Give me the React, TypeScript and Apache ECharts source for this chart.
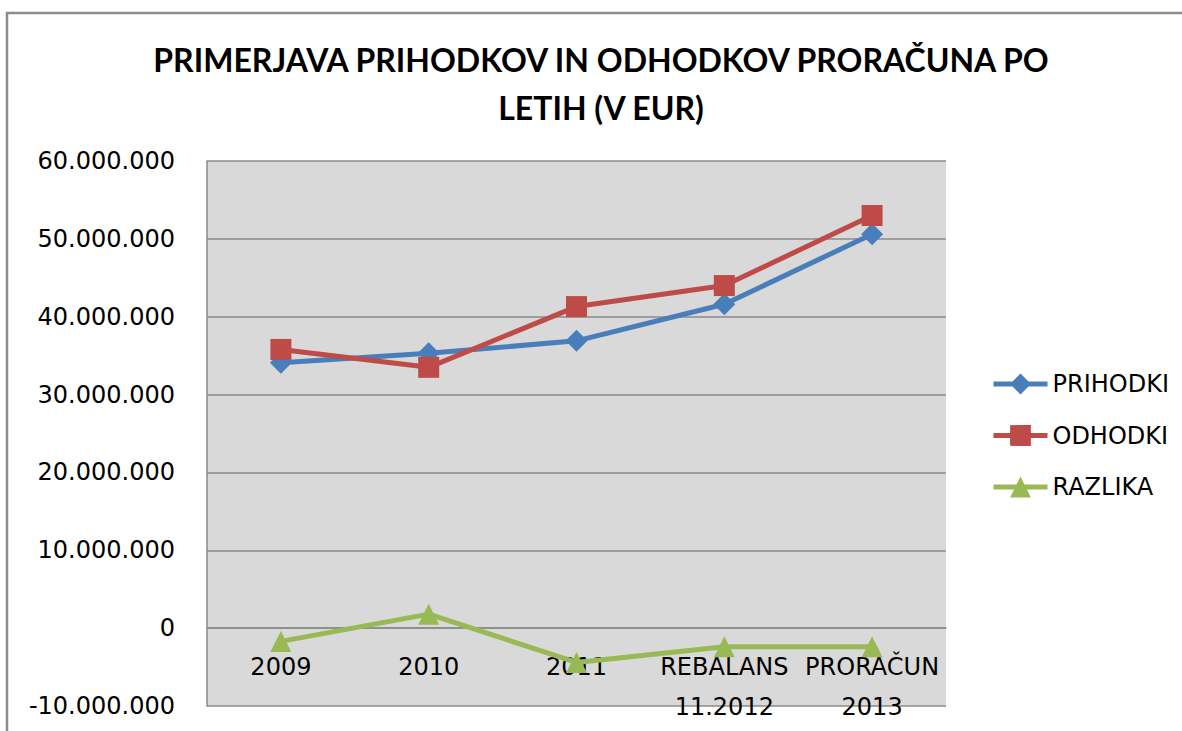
import React, { useEffect, useRef } from "react";
import * as echarts from "echarts";

const categories = ["2009", "2010", "2011", "REBALANS\n11.2012", "PRORAČUN\n2013"];
const prihodki = [34100000, 35300000, 36900000, 41600000, 50600000];
const odhodki = [35800000, 33500000, 41300000, 44000000, 53000000];
const razlika = [-1700000, 1800000, -4400000, -2400000, -2400000];
const seriesNames = ["PRIHODKI", "ODHODKI", "RAZLIKA"];
const titleText = "PRIMERJAVA PRIHODKOV IN ODHODKOV PRORAČUNA PO\nLETIH (V EUR)";

const fmt = (v: number) => {
  const s = Math.abs(v).toString().replace(/\B(?=(\d{3})+(?!\d))/g, ".");
  return (v < 0 ? "-" : "") + s;
};

export default function App() {
  const ref = useRef<HTMLDivElement>(null);
  useEffect(() => {
    if (!ref.current) return;
    const chart = echarts.init(ref.current, undefined, { renderer: "svg" });
    const font = "DejaVu Sans";
    chart.setOption({
      animation: false,
      backgroundColor: "#ffffff",
      title: {
        text: titleText,
        left: 601,
        top: 35,
        padding: 0,
        textAlign: "center",
        textStyle: {
          fontFamily: "Lato",
          fontWeight: "bold",
          fontSize: 32,
          lineHeight: 48,
          color: "#000000",
        },
      },
      graphic: [
        {
          type: "rect",
          shape: { x: 7, y: 13, width: 1220, height: 800 },
          style: { fill: "none", stroke: "#8c8c8c", lineWidth: 2.5 },
          silent: true,
          z: -1,
        },
      ],
      legend: {
        orient: "vertical",
        left: 986,
        top: 367,
        itemWidth: 54,
        itemHeight: 26,
        itemGap: 27.5,
        lineStyle: { width: 5 },
        textStyle: { fontFamily: font, fontSize: 24, lineHeight: 24, color: "#000" },
        data: seriesNames,
      },
      grid: {
        left: 207,
        right: 236,
        top: 161,
        bottom: 25,
        show: true,
        backgroundColor: "#d9d9d9",
        borderWidth: 0,
        containLabel: false,
        outerBoundsMode: "none",
      },
      xAxis: {
        type: "category",
        data: categories,
        boundaryGap: true,
        axisLine: { show: true, onZero: true, lineStyle: { color: "#8a8a8a", width: 1.5 } },
        axisTick: { show: false },
        axisLabel: {
          interval: 0,
          margin: -59,
          fontFamily: font,
          fontSize: 24,
          lineHeight: 40,
          color: "#000",
        },
        splitLine: { show: false },
      },
      yAxis: {
        type: "value",
        min: -10000000,
        max: 60000000,
        interval: 10000000,
        axisLine: { show: true, lineStyle: { color: "#8a8a8a", width: 1.5 } },
        axisTick: { show: false },
        axisLabel: {
          margin: 32,
          fontFamily: font,
          fontSize: 24,
          color: "#000",
          formatter: (v: number) => fmt(v),
        },
        splitLine: { show: true, lineStyle: { color: "#8a8a8a", width: 1.5 } },
      },
      series: [
        {
          name: seriesNames[0],
          type: "line",
          data: prihodki,
          symbol: "diamond",
          symbolSize: 22,
          lineStyle: { color: "#4a7ebb", width: 5 },
          itemStyle: { color: "#4a7ebb" },
        },
        {
          name: seriesNames[1],
          type: "line",
          data: odhodki,
          symbol: "rect",
          symbolSize: 21,
          lineStyle: { color: "#be4b48", width: 5 },
          itemStyle: { color: "#be4b48" },
        },
        {
          name: seriesNames[2],
          type: "line",
          data: razlika,
          symbol: "triangle",
          symbolSize: 21,
          lineStyle: { color: "#98b954", width: 5 },
          itemStyle: { color: "#98b954" },
        },
      ],
    });
    return () => chart.dispose();
  }, []);
  return (
    <div
      ref={ref}
      style={{ position: "fixed", left: 0, top: 0, width: 1182, height: 731 }}
    />
  );
}
